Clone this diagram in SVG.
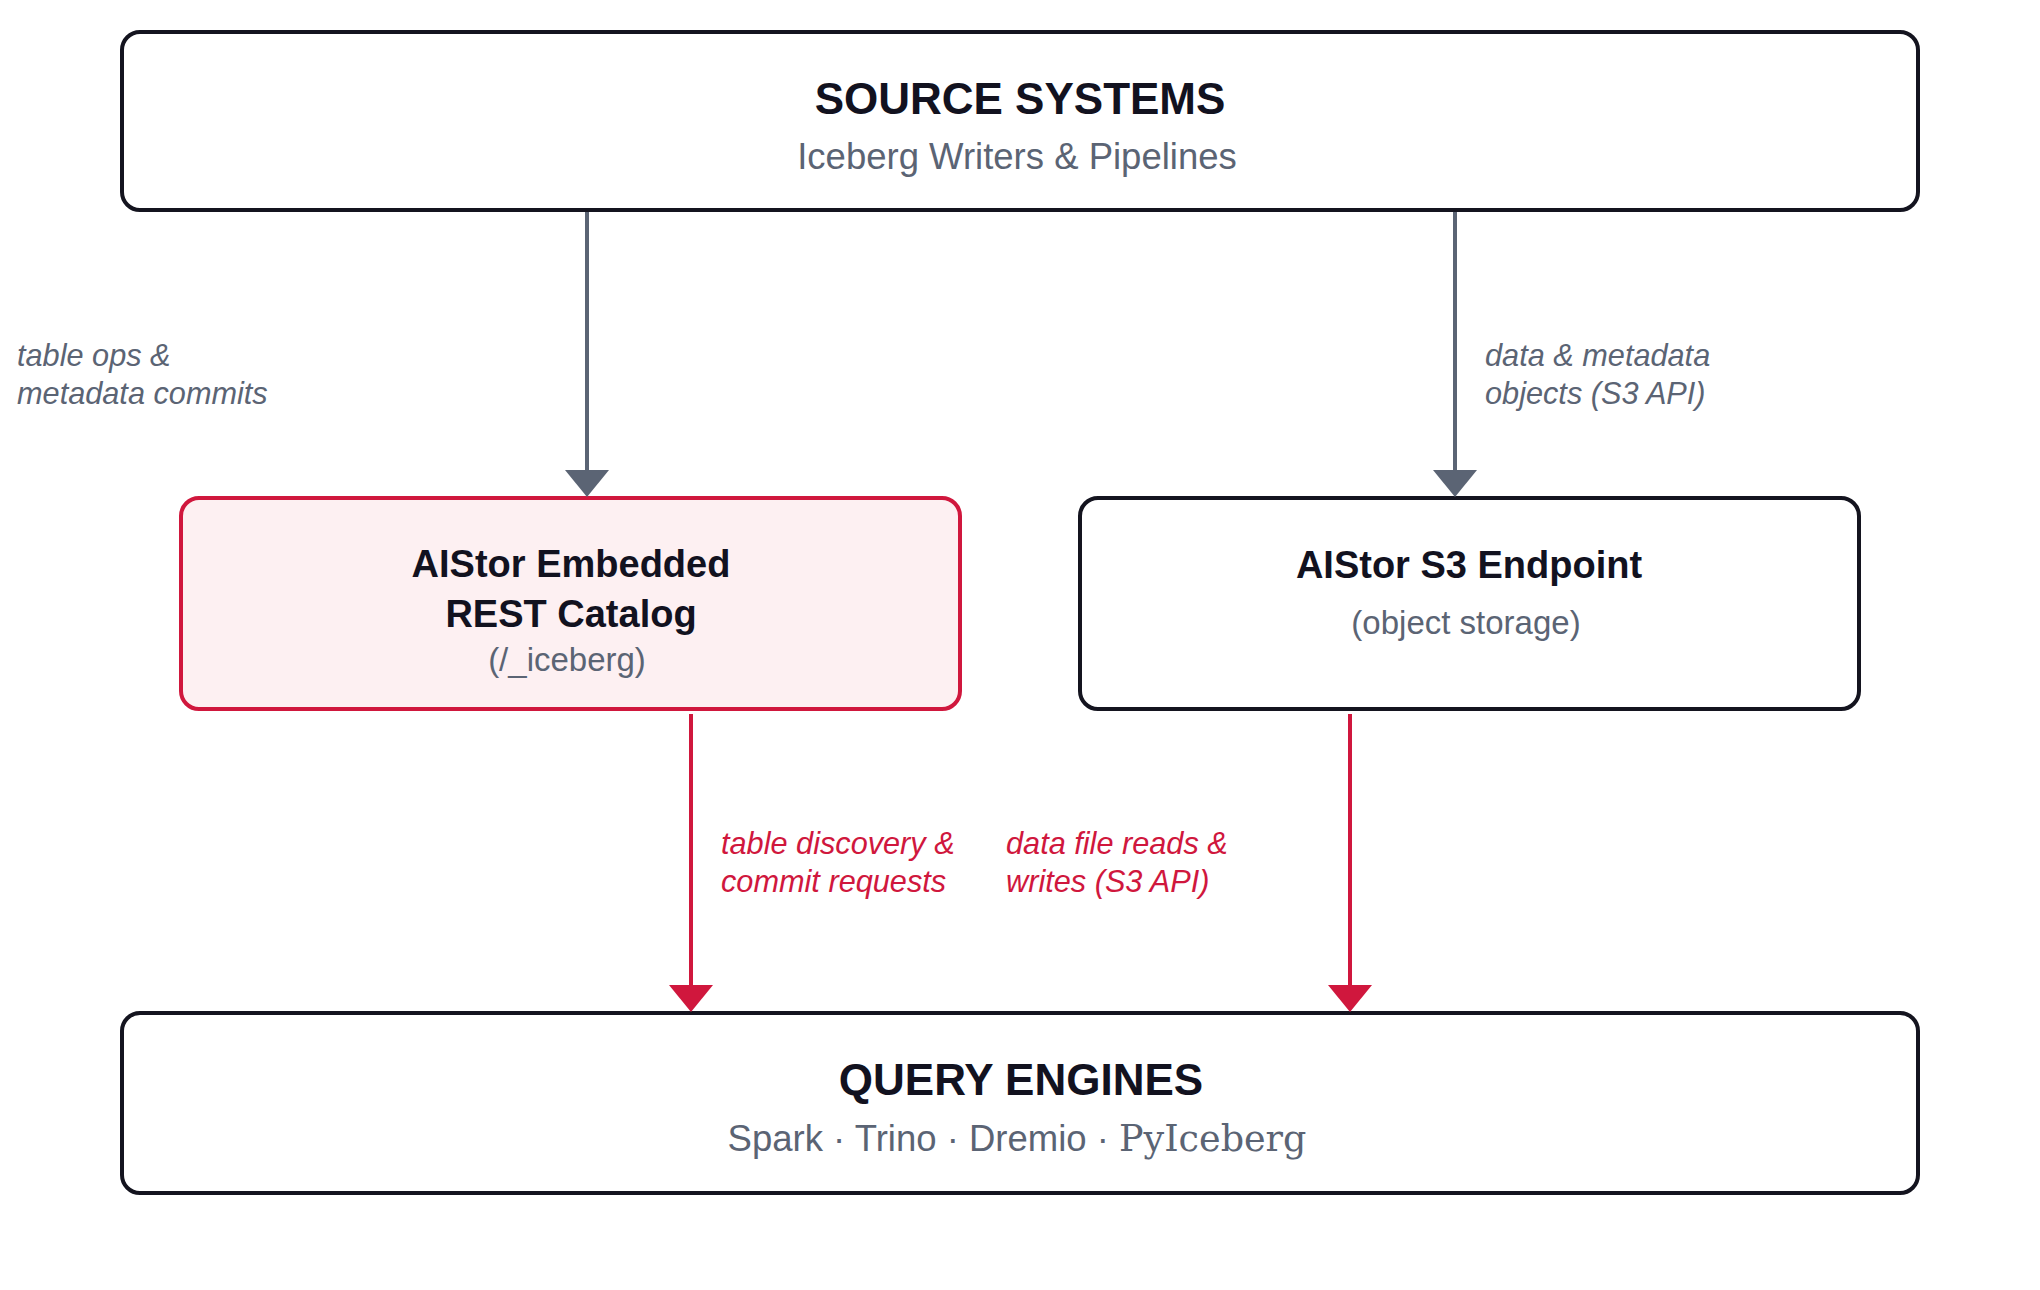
<svg xmlns="http://www.w3.org/2000/svg" width="2040" height="1290" viewBox="0 0 2040 1290">
<style>
text { font-family: "Liberation Sans", Arial, Helvetica, sans-serif; }
.box { fill: #ffffff; stroke: #14141f; stroke-width: 4; }
.boxr { fill: #fdf0f2; stroke: #d0173d; stroke-width: 4; }
.title { font-size: 44px; font-weight: bold; fill: #12121f; text-anchor: middle; }
.ntitle { font-size: 38px; font-weight: bold; fill: #12121f; text-anchor: middle; }
.sub { font-size: 36.5px; fill: #5b6474; text-anchor: middle; }
.nsub { font-size: 33px; fill: #5b6474; text-anchor: middle; }
.lbl { font-size: 30.7px; font-style: italic; fill: #5b6474; }
.lblr { font-size: 30.7px; font-style: italic; fill: #d0173d; }
.eg { stroke: #5b6474; stroke-width: 4; fill: none; }
.er { stroke: #d0173d; stroke-width: 4; fill: none; }
</style>
<defs>
<marker id="ag" viewBox="0 0 27 44" refX="0" refY="22" markerWidth="27" markerHeight="44" markerUnits="userSpaceOnUse" orient="auto">
<path d="M0,0 L27,22 L0,44 z" fill="#5b6474"/>
</marker>
<marker id="ar" viewBox="0 0 27 44" refX="0" refY="22" markerWidth="27" markerHeight="44" markerUnits="userSpaceOnUse" orient="auto">
<path d="M0,0 L27,22 L0,44 z" fill="#d0173d"/>
</marker>
</defs>
<rect width="2040" height="1290" fill="#ffffff"/>
<g id="source">
<rect class="box" x="122" y="32" width="1796" height="178" rx="18"/>
<text class="title" x="1020" y="114">SOURCE SYSTEMS</text>
<text class="sub" x="1017" y="169">Iceberg Writers &amp; Pipelines</text>
</g>
<g id="catalog">
<rect class="boxr" x="181" y="498" width="779" height="211" rx="18"/>
<text class="ntitle" x="571" y="577">AIStor Embedded</text>
<text class="ntitle" x="571" y="627">REST Catalog</text>
<text class="nsub" x="567" y="671">(/_iceberg)</text>
</g>
<g id="s3">
<rect class="box" x="1080" y="498" width="779" height="211" rx="18"/>
<text class="ntitle" x="1469" y="578">AIStor S3 Endpoint</text>
<text class="nsub" x="1466" y="634">(object storage)</text>
</g>
<g id="query">
<rect class="box" x="122" y="1013" width="1796" height="180" rx="18"/>
<text class="title" x="1021" y="1095">QUERY ENGINES</text>
<text class="sub" x="1017" y="1151">Spark · Trino · Dremio · <tspan font-family="'DejaVu Serif', serif">PyIceberg</tspan></text>
</g>
<g id="connectors">
<path class="eg" d="M587,212 L587,470" marker-end="url(#ag)"/>
<path class="eg" d="M1455,212 L1455,470" marker-end="url(#ag)"/>
<path class="er" d="M691,714 L691,985" marker-end="url(#ar)"/>
<path class="er" d="M1350,714 L1350,985" marker-end="url(#ar)"/>
<text class="lbl" x="17" y="366">table ops &amp;</text>
<text class="lbl" x="17" y="404">metadata commits</text>
<text class="lbl" x="1485" y="366">data &amp; metadata</text>
<text class="lbl" x="1485" y="404">objects (S3 API)</text>
<text class="lblr" x="721" y="854">table discovery &amp;</text>
<text class="lblr" x="721" y="892">commit requests</text>
<text class="lblr" x="1006" y="854">data file reads &amp;</text>
<text class="lblr" x="1006" y="892">writes (S3 API)</text>
</g>
</svg>
